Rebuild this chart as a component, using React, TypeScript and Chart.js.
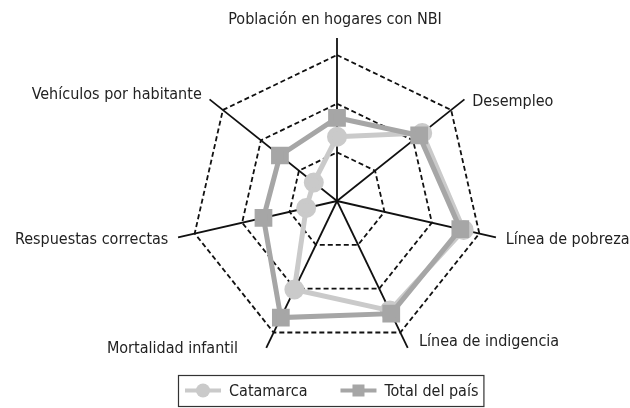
import React, { useEffect, useRef } from "react";
import { Chart, registerables } from "chart.js";

Chart.register(...registerables);

const categories = [
  "Población en hogares con NBI",
  "Desempleo",
  "Línea de pobreza",
  "Línea de indigencia",
  "Mortalidad infantil",
  "Respuestas correctas",
  "Vehículos por habitante",
];
const catamarca = [1.32, 2.24, 2.67, 2.5, 2.02, 0.65, 0.61];
const totalPais = [1.71, 2.16, 2.6, 2.57, 2.66, 1.55, 1.5];
const seriesNames = ["Catamarca", "Total del país"];
const gridTicks = [0, 1, 2, 3];
const axisMax = 3.35;

// label placement nudges (layout only)
const LABEL_NUDGE: [number, number][] = [
  [-2, 0],
  [0, 9],
  [0, 0],
  [7, -15],
  [-24, -8],
  [0, 0],
  [0, 2],
];

const FONT = '"Liberation Sans Narrow", "Arial Narrow", "DejaVu Sans Condensed", sans-serif';
const FONT_SIZE = 16;
const TEXT = "#222";
const C_CAT = "#cacaca";
const C_TOT = "#a6a6a6";

const labelPlugin = {
  id: "customLabels",
  afterDraw(chart: any) {
    const scale = chart.scales.r;
    const ctx = chart.ctx;
    ctx.save();
    ctx.font = `${FONT_SIZE}px ${FONT}`;
    ctx.fillStyle = TEXT;
    const n = chart.data.labels.length;
    for (let i = 0; i < n; i++) {
      const top = i === 0;
      const pos = scale.getPointPosition(i, scale.drawingArea + 10);
      const dx = pos.x - scale.xCenter;
      ctx.textAlign = Math.abs(dx) < 2 ? "center" : dx > 0 ? "left" : "right";
      ctx.textBaseline = top ? "bottom" : "middle";
      const [nx, ny] = LABEL_NUDGE[i] || [0, 0];
      ctx.fillText(chart.data.labels[i], pos.x + nx, pos.y + ny);
    }
    ctx.restore();
  },
};

const legendPlugin = {
  id: "boxLegend",
  afterDraw(chart: any) {
    const ctx = chart.ctx;
    const ds = chart.data.datasets;
    ctx.save();
    ctx.font = `${FONT_SIZE}px ${FONT}`;
    const boxLeft = 178;
    const boxTop = 375;
    const boxH = 31;
    const cy = boxTop + boxH / 2;
    const lineLen = 36;
    let x = boxLeft + 7;
    const items: any[] = [];
    ds.forEach((d: any, i: number) => {
      const tw = ctx.measureText(d.label).width;
      items.push({ d, x, tw });
      x += lineLen + 8 + tw + (i < ds.length - 1 ? 33 : 5);
    });
    const boxW = x - boxLeft;
    ctx.strokeStyle = "#333";
    ctx.lineWidth = 1.2;
    ctx.strokeRect(boxLeft + 0.5, boxTop + 0.5, boxW, boxH);
    items.forEach(({ d, x: sx }) => {
      ctx.strokeStyle = d.borderColor;
      ctx.lineWidth = 4;
      ctx.beginPath();
      ctx.moveTo(sx, cy);
      ctx.lineTo(sx + lineLen, cy);
      ctx.stroke();
      ctx.fillStyle = d.pointBackgroundColor;
      const mx = sx + lineLen / 2;
      if (d.pointStyle === "rect") {
        ctx.fillRect(mx - 6, cy - 6, 12, 12);
      } else {
        ctx.beginPath();
        ctx.arc(mx, cy, 7, 0, Math.PI * 2);
        ctx.fill();
      }
      ctx.fillStyle = TEXT;
      ctx.textAlign = "left";
      ctx.textBaseline = "middle";
      ctx.fillText(d.label, sx + lineLen + 8, cy + 1);
    });
    ctx.restore();
  },
};

export default function App() {
  const ref = useRef<HTMLCanvasElement>(null);
  useEffect(() => {
    document.body.style.margin = "0";
    const chart = new Chart(ref.current as HTMLCanvasElement, {
      type: "radar",
      data: {
        labels: categories,
        datasets: [
          {
            label: seriesNames[0],
            data: catamarca,
            borderColor: C_CAT,
            backgroundColor: C_CAT,
            pointBackgroundColor: C_CAT,
            pointBorderColor: C_CAT,
            borderWidth: 5,
            pointRadius: 7.5,
            pointStyle: "circle",
            fill: false,
            order: 1,
          },
          {
            label: seriesNames[1],
            data: totalPais,
            borderColor: C_TOT,
            backgroundColor: C_TOT,
            pointBackgroundColor: C_TOT,
            pointBorderColor: C_TOT,
            borderWidth: 5,
            pointRadius: 9,
            pointStyle: "rect",
            fill: false,
            order: 0,
          },
        ],
      },
      options: {
        animation: false,
        responsive: false,
        layout: { padding: { left: 44, right: 0, top: 38, bottom: 44 } },
        plugins: { legend: { display: false }, tooltip: { enabled: false } },
        scales: {
          r: {
            min: 0,
            max: axisMax,
            afterBuildTicks: (scale: any) => {
              scale.ticks = gridTicks.map((v) => ({ value: v }));
            },
            ticks: { display: false },
            pointLabels: { display: false },
            grid: { color: "#111", lineWidth: 1.8 },
            border: { dash: [5, 3] },
            angleLines: { color: "#111", lineWidth: 1.8 },
          },
        },
      },
      plugins: [labelPlugin, legendPlugin],
    });
    return () => chart.destroy();
  }, []);
  return (
    <div style={{ width: 630, height: 408 }}>
      <canvas ref={ref} width={630} height={408} style={{ display: "block" }} />
    </div>
  );
}
